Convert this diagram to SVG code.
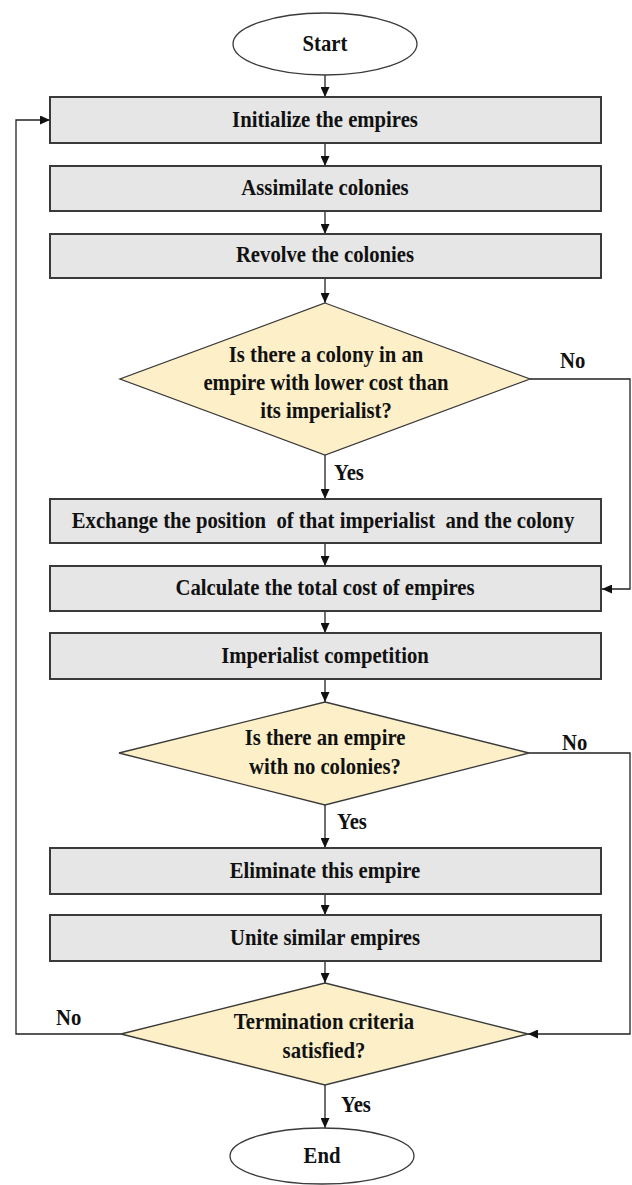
<svg xmlns="http://www.w3.org/2000/svg" width="632" height="1185" viewBox="0 0 632 1185">
<defs>
<marker id="ah" markerUnits="userSpaceOnUse" markerWidth="10" markerHeight="9" refX="10" refY="4.5" orient="auto">
<path d="M0,0 L10,4.5 L0,9 z" fill="#111"/>
</marker>
<style>
.box{fill:#e6e6e6;stroke:#3a3a3a;stroke-width:2}
.dia{fill:#fdf0c9;stroke:#3a3a3a;stroke-width:1.3}
.ell{fill:#ffffff;stroke:#3a3a3a;stroke-width:1.3}
.t{font-weight:bold;font-size:23px;text-anchor:middle;fill:#111}
.l{font-weight:bold;font-size:23px;text-anchor:start;fill:#111}
.c{fill:none;stroke:#222;stroke-width:1.3}
</style>
</defs>
<rect width="632" height="1185" fill="#ffffff"/>
<g id="connectors" font-family="Liberation Serif, DejaVu Serif, serif">
<path class="c" d="M325,75 L325,97" marker-end="url(#ah)"/>
<path class="c" d="M325,143 L325,166" marker-end="url(#ah)"/>
<path class="c" d="M325,211 L325,234" marker-end="url(#ah)"/>
<path class="c" d="M325,278 L325,303" marker-end="url(#ah)"/>
<path class="c" d="M325,455 L325,499" marker-end="url(#ah)"/>
<path class="c" d="M530,379 L630,379 L630,589 L602,589" marker-end="url(#ah)"/>
<path class="c" d="M325,543 L325,566" marker-end="url(#ah)"/>
<path class="c" d="M325,611 L325,633" marker-end="url(#ah)"/>
<path class="c" d="M325,679 L325,702" marker-end="url(#ah)"/>
<path class="c" d="M325,805 L325,848" marker-end="url(#ah)"/>
<path class="c" d="M529,753 L630,753 L630,1034 L528,1034" marker-end="url(#ah)"/>
<path class="c" d="M325,894 L325,915" marker-end="url(#ah)"/>
<path class="c" d="M325,961 L325,983" marker-end="url(#ah)"/>
<path class="c" d="M325,1085 L325,1128" marker-end="url(#ah)"/>
<path class="c" d="M121,1034 L16,1034 L16,120 L50,120" marker-end="url(#ah)"/>
<text class="l" transform="translate(560 368) scale(0.9 1)">No</text>
<text class="l" transform="translate(334 480) scale(0.9 1)">Yes</text>
<text class="l" transform="translate(562 750) scale(0.9 1)">No</text>
<text class="l" transform="translate(337 829) scale(0.9 1)">Yes</text>
<text class="l" transform="translate(56 1025) scale(0.9 1)">No</text>
<text class="l" transform="translate(341 1112) scale(0.9 1)">Yes</text>
</g>
<g id="nodes" font-family="Liberation Serif, DejaVu Serif, serif">
<g id="start">
<ellipse class="ell" cx="325" cy="44" rx="92" ry="31"/>
<text class="t" transform="translate(325 51) scale(0.9 1)">Start</text>
</g>
<g id="init">
<rect class="box" x="50" y="97" width="551" height="46"/>
<text class="t" transform="translate(325 127) scale(0.9 1)">Initialize the empires</text>
</g>
<g id="assimilate">
<rect class="box" x="50" y="166" width="551" height="45"/>
<text class="t" transform="translate(325 195) scale(0.9 1)">Assimilate colonies</text>
</g>
<g id="revolve">
<rect class="box" x="50" y="234" width="551" height="44"/>
<text class="t" transform="translate(325 262) scale(0.9 1)">Revolve the colonies</text>
</g>
<g id="decision1">
<polygon class="dia" points="325,303 530,379 325,455 120,379"/>
<text class="t" transform="translate(326 362) scale(0.9 1)">Is there a colony in an</text>
<text class="t" transform="translate(326 390) scale(0.9 1)">empire with lower cost than</text>
<text class="t" transform="translate(326 418) scale(0.9 1)">its imperialist?</text>
</g>
<g id="exchange">
<rect class="box" x="50" y="499" width="551" height="44"/>
<text class="t" transform="translate(323 528) scale(0.9 1)" xml:space="preserve">Exchange the position  of that imperialist  and the colony</text>
</g>
<g id="calculate">
<rect class="box" x="50" y="566" width="551" height="45"/>
<text class="t" transform="translate(325 595) scale(0.9 1)">Calculate the total cost of empires</text>
</g>
<g id="competition">
<rect class="box" x="50" y="633" width="551" height="46"/>
<text class="t" transform="translate(325 663) scale(0.9 1)">Imperialist  competition</text>
</g>
<g id="decision2">
<polygon class="dia" points="325,702 529,753 325,805 119,753"/>
<text class="t" transform="translate(325 745) scale(0.9 1)">Is there an empire</text>
<text class="t" transform="translate(325 774) scale(0.9 1)">with no colonies?</text>
</g>
<g id="eliminate">
<rect class="box" x="50" y="848" width="551" height="46"/>
<text class="t" transform="translate(325 878) scale(0.9 1)">Eliminate this empire</text>
</g>
<g id="unite">
<rect class="box" x="50" y="915" width="551" height="46"/>
<text class="t" transform="translate(325 945) scale(0.9 1)">Unite similar empires</text>
</g>
<g id="decision3">
<polygon class="dia" points="325,983 528,1034 325,1085 121,1034"/>
<text class="t" transform="translate(324 1029) scale(0.9 1)">Termination criteria</text>
<text class="t" transform="translate(324 1058) scale(0.9 1)">satisfied?</text>
</g>
<g id="end">
<ellipse class="ell" cx="322" cy="1156" rx="92" ry="28"/>
<text class="t" transform="translate(322 1163) scale(0.9 1)">End</text>
</g>
</g>
</svg>
